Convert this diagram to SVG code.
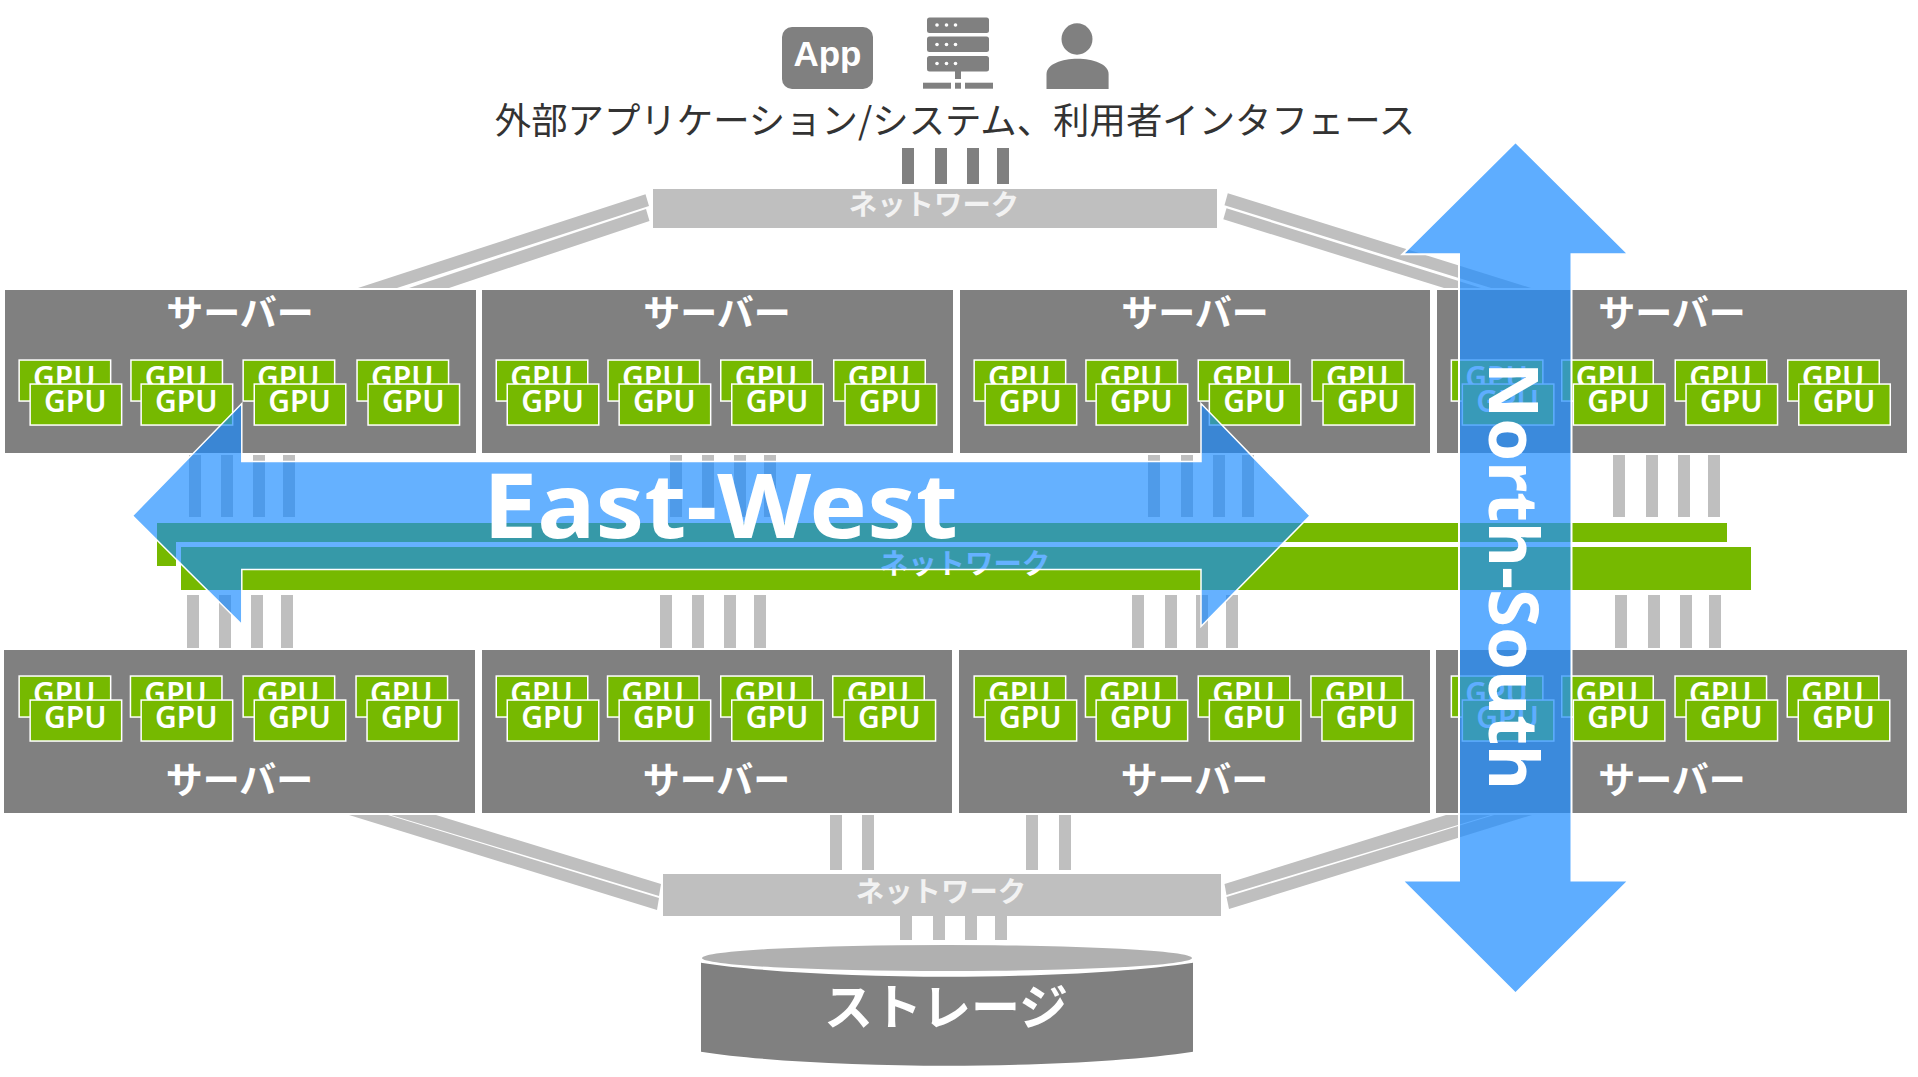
<svg xmlns="http://www.w3.org/2000/svg" width="1918" height="1077" viewBox="0 0 1918 1077">
<style>
.srv{fill:#808080}
.lbl{font:700 37px "Noto Sans CJK JP",sans-serif;fill:#fff;text-anchor:middle}
.net{fill:#bfbfbf}
.nl{font:700 28.4px "Noto Sans CJK JP",sans-serif;fill:#f2f2f2;text-anchor:middle}
.b{fill:#bfbfbf}
.d{fill:#808080}
.gb{fill:#76b900;stroke:#fff;stroke-width:1.5}
.gt{font:600 30px "Noto Sans","Liberation Sans",sans-serif;fill:#fff;text-anchor:middle}
</style>
<defs>
<g id="gb"><rect class="gb" x="0.75" y="0.75" width="91.5" height="41"/></g>
</defs>
<g id="connectors">
<g id="top-diagonals" class="b">
<polygon points="645.5,194.3 649,206 397,288 358,288"/>
<polygon points="646,209 649.5,221 449,288 409,288"/>
<polygon points="1227.8,193.3 1224.5,205.3 1491,288 1531,288"/>
<polygon points="1226.5,208.3 1223.3,219.3 1444,288 1481,288"/>
</g>
<g id="bottom-diagonals" class="b">
<polygon points="661,884 659,896 391,815 436,815"/>
<polygon points="659,898 657,910 349,815 388,815"/>
<polygon points="1224.5,884 1226.5,895 1491,815 1446,815"/>
<polygon points="1226.5,897 1229,909 1532,815 1494,815"/>
</g>
<g id="top-links" class="d">
<rect x="902" y="148" width="12" height="36"/><rect x="935" y="148" width="12" height="36"/><rect x="967" y="148" width="12" height="36"/><rect x="997" y="148" width="12" height="36"/>
</g>
<g id="upper-links" class="b">
<rect x="189" y="455" width="12" height="62"/><rect x="221" y="455" width="12" height="62"/><rect x="253" y="455" width="12" height="62"/><rect x="283" y="455" width="12" height="62"/>
<rect x="670" y="455" width="12" height="62"/><rect x="702" y="455" width="12" height="62"/><rect x="734" y="455" width="12" height="62"/><rect x="764" y="455" width="12" height="62"/>
<rect x="1148" y="455" width="12" height="62"/><rect x="1181" y="455" width="12" height="62"/><rect x="1213" y="455" width="12" height="62"/><rect x="1242" y="455" width="12" height="62"/>
<rect x="1613" y="455" width="12" height="62"/><rect x="1646" y="455" width="12" height="62"/><rect x="1678" y="455" width="12" height="62"/><rect x="1708" y="455" width="12" height="62"/>
</g>
<g id="lower-links" class="b">
<rect x="187" y="595" width="12" height="53"/><rect x="219" y="595" width="12" height="53"/><rect x="251" y="595" width="12" height="53"/><rect x="281" y="595" width="12" height="53"/>
<rect x="660" y="595" width="12" height="53"/><rect x="692" y="595" width="12" height="53"/><rect x="724" y="595" width="12" height="53"/><rect x="754" y="595" width="12" height="53"/>
<rect x="1132" y="595" width="12" height="53"/><rect x="1165" y="595" width="12" height="53"/><rect x="1196" y="595" width="12" height="53"/><rect x="1226" y="595" width="12" height="53"/>
<rect x="1615" y="595" width="12" height="53"/><rect x="1648" y="595" width="12" height="53"/><rect x="1680" y="595" width="12" height="53"/><rect x="1709" y="595" width="12" height="53"/>
</g>
<g id="bottom-links" class="b">
<rect x="830" y="815" width="12" height="55"/><rect x="862" y="815" width="12" height="55"/><rect x="1026" y="815" width="12" height="55"/><rect x="1059" y="815" width="12" height="55"/>
<rect x="900" y="916" width="12" height="24"/><rect x="933" y="916" width="12" height="24"/><rect x="965" y="916" width="12" height="24"/><rect x="995" y="916" width="12" height="24"/>
</g>
</g>
<g id="icon-app"><rect class="d" x="782" y="27" width="91" height="62" rx="10"/><text x="827.5" y="66" style="font:700 35px 'Liberation Sans',sans-serif;fill:#fff;text-anchor:middle">App</text></g>
<g id="icon-server" class="d">
<rect x="927" y="17.5" width="62" height="15.5" rx="2.5"/><rect x="927" y="36.5" width="62" height="15.5" rx="2.5"/><rect x="927" y="56" width="62" height="15.5" rx="2.5"/>
<rect x="955" y="71" width="6" height="8"/><rect x="923" y="82.7" width="28" height="6"/><rect x="955" y="82.7" width="6" height="6"/><rect x="965" y="82.7" width="28" height="6"/>
<g fill="#fff"><circle cx="937" cy="25" r="1.8"/><circle cx="946.5" cy="25" r="1.8"/><circle cx="955.5" cy="25" r="1.8"/><circle cx="937" cy="44.5" r="1.8"/><circle cx="946.5" cy="44.5" r="1.8"/><circle cx="955.5" cy="44.5" r="1.8"/><circle cx="937" cy="63.5" r="1.8"/><circle cx="946.5" cy="63.5" r="1.8"/><circle cx="955.5" cy="63.5" r="1.8"/></g>
</g>
<g id="icon-user" class="d"><ellipse cx="1077" cy="39" rx="15.5" ry="15.7"/><path d="M1046.5 89V74C1046.5 64 1062 58.7 1077.5 58.7S1108.6 64 1108.6 74V89Z"/></g>
<text id="title" x="955" y="133.5" style="font:400 36.4px 'Noto Sans CJK JP',sans-serif;fill:#333;text-anchor:middle">外部アプリケーション/システム、利用者インタフェース</text>
<g id="network-top"><rect class="net" x="653" y="189" width="564" height="39"/><text class="nl" x="934" y="214.5">ネットワーク</text></g>
<g id="network-mid">
<rect x="157" y="523" width="1570" height="43" fill="#76b900"/>
<rect x="176" y="542" width="1580" height="53" fill="#fff"/>
<rect x="181" y="547" width="1570" height="43" fill="#76b900"/>
<text class="nl" x="965" y="573.5" style="fill:#fff">ネットワーク</text>
</g>
<g id="network-bottom"><rect class="net" x="663" y="874" width="558" height="42"/><text class="nl" x="941" y="902.3">ネットワーク</text></g>
<g id="storage">
<ellipse cx="947" cy="958" rx="245" ry="13" fill="#b0b0b0"/>
<path class="d" d="M701 962.7C760 972 860 976.7 947 976.7S1134 972 1193 962.7V1051.7C1134 1061 1034 1065.7 947 1065.7S760 1061 701 1051.7Z"/>
<text x="946" y="1025" style="font:700 49px 'Noto Sans CJK JP',sans-serif;fill:#fff;text-anchor:middle">ストレージ</text>
</g>
<g id="server-t1"><rect class="srv" x="5" y="290" width="471" height="163"/><text class="lbl" x="240" y="326.7">サーバー</text>
<g transform="translate(18.4,359.3)"><use href="#gb"/><text class="gt" x="46" y="28.7">GPU</text></g><g transform="translate(29.4,383.3)"><use href="#gb"/><text class="gt" x="46" y="28.4">GPU</text></g>
<g transform="translate(130.2,359.3)"><use href="#gb"/><text class="gt" x="46" y="28.7">GPU</text></g><g transform="translate(140.4,383.3)"><use href="#gb"/><text class="gt" x="46" y="28.4">GPU</text></g>
<g transform="translate(242.4,359.3)"><use href="#gb"/><text class="gt" x="46" y="28.7">GPU</text></g><g transform="translate(253.5,383.3)"><use href="#gb"/><text class="gt" x="46" y="28.4">GPU</text></g>
<g transform="translate(356.3,359.3)"><use href="#gb"/><text class="gt" x="46" y="28.7">GPU</text></g><g transform="translate(367.3,383.3)"><use href="#gb"/><text class="gt" x="46" y="28.4">GPU</text></g>
</g>
<g id="server-t2"><rect class="srv" x="482" y="290" width="471" height="163"/><text class="lbl" x="717" y="326.7">サーバー</text>
<g transform="translate(495.5,359.3)"><use href="#gb"/><text class="gt" x="46" y="28.7">GPU</text></g><g transform="translate(506.5,383.3)"><use href="#gb"/><text class="gt" x="46" y="28.4">GPU</text></g>
<g transform="translate(607.3,359.3)"><use href="#gb"/><text class="gt" x="46" y="28.7">GPU</text></g><g transform="translate(618.4,383.3)"><use href="#gb"/><text class="gt" x="46" y="28.4">GPU</text></g>
<g transform="translate(720,359.3)"><use href="#gb"/><text class="gt" x="46" y="28.7">GPU</text></g><g transform="translate(731,383.3)"><use href="#gb"/><text class="gt" x="46" y="28.4">GPU</text></g>
<g transform="translate(833,359.3)"><use href="#gb"/><text class="gt" x="46" y="28.7">GPU</text></g><g transform="translate(844.3,383.3)"><use href="#gb"/><text class="gt" x="46" y="28.4">GPU</text></g>
</g>
<g id="server-t3"><rect class="srv" x="960" y="290" width="470" height="163"/><text class="lbl" x="1195" y="326.7">サーバー</text>
<g transform="translate(973.4,359.3)"><use href="#gb"/><text class="gt" x="46" y="28.7">GPU</text></g><g transform="translate(984.4,383.3)"><use href="#gb"/><text class="gt" x="46" y="28.4">GPU</text></g>
<g transform="translate(1085.2,359.3)"><use href="#gb"/><text class="gt" x="46" y="28.7">GPU</text></g><g transform="translate(1095.4,383.3)"><use href="#gb"/><text class="gt" x="46" y="28.4">GPU</text></g>
<g transform="translate(1197.5,359.3)"><use href="#gb"/><text class="gt" x="46" y="28.7">GPU</text></g><g transform="translate(1208.6,383.3)"><use href="#gb"/><text class="gt" x="46" y="28.4">GPU</text></g>
<g transform="translate(1311.3,359.3)"><use href="#gb"/><text class="gt" x="46" y="28.7">GPU</text></g><g transform="translate(1322.3,383.3)"><use href="#gb"/><text class="gt" x="46" y="28.4">GPU</text></g>
</g>
<g id="server-t4"><rect class="srv" x="1437" y="290" width="470" height="163"/><text class="lbl" x="1672" y="326.7">サーバー</text>
<g transform="translate(1450.6,359.3)"><use href="#gb"/><text class="gt" x="46" y="28.7">GPU</text></g><g transform="translate(1461.6,383.3)"><use href="#gb"/><text class="gt" x="46" y="28.4">GPU</text></g>
<g transform="translate(1561,359.3)"><use href="#gb"/><text class="gt" x="46" y="28.7">GPU</text></g><g transform="translate(1572.6,383.3)"><use href="#gb"/><text class="gt" x="46" y="28.4">GPU</text></g>
<g transform="translate(1674.5,359.3)"><use href="#gb"/><text class="gt" x="46" y="28.7">GPU</text></g><g transform="translate(1685.3,383.3)"><use href="#gb"/><text class="gt" x="46" y="28.4">GPU</text></g>
<g transform="translate(1787,359.3)"><use href="#gb"/><text class="gt" x="46" y="28.7">GPU</text></g><g transform="translate(1798,383.3)"><use href="#gb"/><text class="gt" x="46" y="28.4">GPU</text></g>
</g>
<g id="server-b1"><rect class="srv" x="4" y="650" width="471" height="163"/><text class="lbl" x="239.5" y="793.7">サーバー</text>
<g transform="translate(18.4,675.3)"><use href="#gb"/><text class="gt" x="46" y="28.7">GPU</text></g><g transform="translate(29.4,699.3)"><use href="#gb"/><text class="gt" x="46" y="28.4">GPU</text></g>
<g transform="translate(129.7,675.3)"><use href="#gb"/><text class="gt" x="46" y="28.7">GPU</text></g><g transform="translate(140.4,699.3)"><use href="#gb"/><text class="gt" x="46" y="28.4">GPU</text></g>
<g transform="translate(242.4,675.3)"><use href="#gb"/><text class="gt" x="46" y="28.7">GPU</text></g><g transform="translate(253.5,699.3)"><use href="#gb"/><text class="gt" x="46" y="28.4">GPU</text></g>
<g transform="translate(355.3,675.3)"><use href="#gb"/><text class="gt" x="46" y="28.7">GPU</text></g><g transform="translate(366.3,699.3)"><use href="#gb"/><text class="gt" x="46" y="28.4">GPU</text></g>
</g>
<g id="server-b2"><rect class="srv" x="482" y="650" width="470" height="163"/><text class="lbl" x="716.5" y="793.7">サーバー</text>
<g transform="translate(495.5,675.3)"><use href="#gb"/><text class="gt" x="46" y="28.7">GPU</text></g><g transform="translate(506.5,699.3)"><use href="#gb"/><text class="gt" x="46" y="28.4">GPU</text></g>
<g transform="translate(606.8,675.3)"><use href="#gb"/><text class="gt" x="46" y="28.7">GPU</text></g><g transform="translate(618.4,699.3)"><use href="#gb"/><text class="gt" x="46" y="28.4">GPU</text></g>
<g transform="translate(720,675.3)"><use href="#gb"/><text class="gt" x="46" y="28.7">GPU</text></g><g transform="translate(731,699.3)"><use href="#gb"/><text class="gt" x="46" y="28.4">GPU</text></g>
<g transform="translate(832,675.3)"><use href="#gb"/><text class="gt" x="46" y="28.7">GPU</text></g><g transform="translate(843.3,699.3)"><use href="#gb"/><text class="gt" x="46" y="28.4">GPU</text></g>
</g>
<g id="server-b3"><rect class="srv" x="959" y="650" width="471" height="163"/><text class="lbl" x="1194.5" y="793.7">サーバー</text>
<g transform="translate(973.4,675.3)"><use href="#gb"/><text class="gt" x="46" y="28.7">GPU</text></g><g transform="translate(984.4,699.3)"><use href="#gb"/><text class="gt" x="46" y="28.4">GPU</text></g>
<g transform="translate(1084.7,675.3)"><use href="#gb"/><text class="gt" x="46" y="28.7">GPU</text></g><g transform="translate(1095.4,699.3)"><use href="#gb"/><text class="gt" x="46" y="28.4">GPU</text></g>
<g transform="translate(1197.5,675.3)"><use href="#gb"/><text class="gt" x="46" y="28.7">GPU</text></g><g transform="translate(1208.6,699.3)"><use href="#gb"/><text class="gt" x="46" y="28.4">GPU</text></g>
<g transform="translate(1310.2,675.3)"><use href="#gb"/><text class="gt" x="46" y="28.7">GPU</text></g><g transform="translate(1321.2,699.3)"><use href="#gb"/><text class="gt" x="46" y="28.4">GPU</text></g>
</g>
<g id="server-b4"><rect class="srv" x="1436" y="650" width="471" height="163"/><text class="lbl" x="1672" y="793.7">サーバー</text>
<g transform="translate(1450.6,675.3)"><use href="#gb"/><text class="gt" x="46" y="28.7">GPU</text></g><g transform="translate(1461.6,699.3)"><use href="#gb"/><text class="gt" x="46" y="28.4">GPU</text></g>
<g transform="translate(1561,675.3)"><use href="#gb"/><text class="gt" x="46" y="28.7">GPU</text></g><g transform="translate(1572.6,699.3)"><use href="#gb"/><text class="gt" x="46" y="28.4">GPU</text></g>
<g transform="translate(1674.3,675.3)"><use href="#gb"/><text class="gt" x="46" y="28.7">GPU</text></g><g transform="translate(1685.3,699.3)"><use href="#gb"/><text class="gt" x="46" y="28.4">GPU</text></g>
<g transform="translate(1786.5,675.3)"><use href="#gb"/><text class="gt" x="46" y="28.7">GPU</text></g><g transform="translate(1797.5,699.3)"><use href="#gb"/><text class="gt" x="46" y="28.4">GPU</text></g>
</g>
<g id="arrow-east-west">
<path d="M132.5 515.7L241.8 403.5V461.5H1201V403.5L1310 515.7L1201 626.5V569.5H241.8V624.5Z" fill="rgb(22,137,255)" fill-opacity=".66" stroke="#fff" stroke-width="1.5"/>
<text x="483" y="537.5" textLength="475" lengthAdjust="spacingAndGlyphs" style="font:700 90px 'Noto Sans',sans-serif;fill:#fff">East-West</text>
</g>
<g id="arrow-north-south">
<path d="M1515.5 142L1628.5 254.3H1571.5V880.6H1628.5L1515.5 993.5L1402.5 880.6H1459V254.3H1402.5Z" fill="rgb(32,141,255)" fill-opacity=".72" stroke="#fff" stroke-width="2"/>
<text transform="translate(1488.5,362) rotate(90)" x="0" y="0" textLength="428" lengthAdjust="spacingAndGlyphs" style="font:700 68px 'Noto Sans',sans-serif;fill:#fff">North-South</text>
</g>
</svg>
